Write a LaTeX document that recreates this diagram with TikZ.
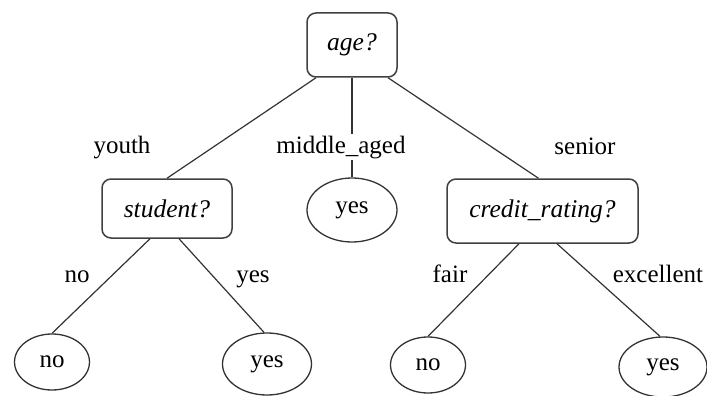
\documentclass[tikz,border=0pt]{standalone}
\usepackage{fontspec}
\setmainfont{Liberation Serif}
\usetikzlibrary{shapes.geometric}
\begin{document}
\begin{tikzpicture}[x=1pt,y=-1pt,
  every node/.style={font=\fontsize{25}{30}\selectfont},
  edge/.style={draw=black!80,line width=1.2pt},
  testbox/.style={draw=black!75,line width=1.5pt,rounded corners=9pt,inner sep=0pt,font=\fontsize{25.5}{30}\selectfont\itshape},
  leaf/.style={draw=black!80,line width=1.3pt,ellipse,inner sep=0pt},
  lbl/.style={anchor=base,inner sep=0pt}]
\useasboundingbox (0,0) rectangle (707,396);
% internal nodes
\node[testbox,minimum width=90pt,minimum height=64pt] (age) at (352,45) {age?};
\node[testbox,minimum width=130pt,minimum height=59pt] (student) at (167,208.5) {student?};
\node[testbox,minimum width=191pt,minimum height=64pt] (credit) at (542.5,211) {credit\_rating?};
% leaves
\node[leaf,minimum width=90pt,minimum height=64pt] (mid) at (352,210) {yes};
\node[leaf,minimum width=75pt,minimum height=56pt] (n1) at (52,362) {no};
\node[leaf,minimum width=89pt,minimum height=62pt] (y1) at (267,364) {yes};
\node[leaf,minimum width=75pt,minimum height=56pt] (n2) at (428,365) {no};
\node[leaf,minimum width=88pt,minimum height=60pt] (y2) at (663,367) {yes};
% edges
\draw[edge] ([xshift=-36pt]age.south) -- (student.north);
\draw[edge] (age.south) -- (mid.north);
\draw[edge] ([xshift=36pt]age.south) -- ([xshift=-4pt]credit.north);
\draw[edge] ([xshift=-17pt]student.south) -- (n1.north);
\draw[edge] ([xshift=12pt]student.south) -- ([xshift=-3pt]y1.north);
\draw[edge] ([xshift=-23.5pt]credit.south) -- (n2.north);
\draw[edge] ([xshift=14.5pt]credit.south) -- ([xshift=-3pt]y2.north);
% edge labels
\node[lbl] (lyouth) at (122,153) {youth};
\node[lbl,fill=white,inner ysep=2pt] (lmid) at (341,153) {middle\_aged};
\node[lbl] (lsenior) at (585,154) {senior};
\node[lbl] (lno) at (77,282) {no};
\node[lbl] (lyes) at (253,282) {yes};
\node[lbl] (lfair) at (450,282) {fair};
\node[lbl] (lexc) at (658,282) {excellent};
\end{tikzpicture}
\end{document}
